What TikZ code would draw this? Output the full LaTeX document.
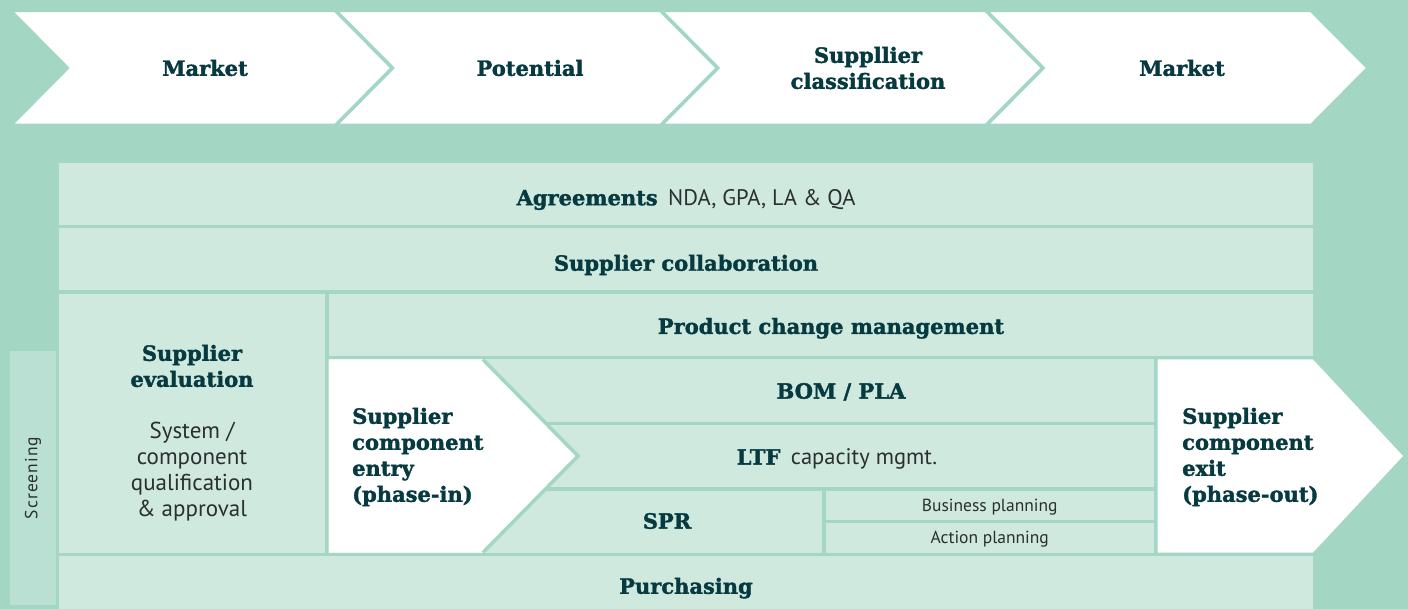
\documentclass[tikz,border=0pt]{standalone}
\usepackage{fontspec}
\setmainfont{PT Sans}
\newfontfamily\slabfont[BoldFeatures={FakeBold=1.6}]{DejaVu Serif}
\usetikzlibrary{positioning,calc}
\usepackage{xcolor}
\definecolor{bggreen}{HTML}{A3D7C4}
\definecolor{cellgreen}{HTML}{CFE9DE}
\definecolor{screengreen}{HTML}{B9E0D2}
\definecolor{inkteal}{HTML}{063A40}
\definecolor{inkgray}{HTML}{2A2F2F}
\newcommand{\reg}[1]{{\normalfont\fontsize{22.5}{26}\selectfont\color{inkgray}#1}}

\begin{document}
\begin{tikzpicture}[
      x=1pt, y=-1pt, % pixel grid, y downwards
      cell/.style={rectangle, fill=cellgreen, inner sep=0pt, outer sep=0pt, anchor=north west, text=inkteal, font=\slabfont\bfseries\fontsize{21}{26}\selectfont, text height=22.5pt, text depth=0pt},
      small/.style={font=\fontsize{17.5}{20}\selectfont, text=inkgray, text height=12.3pt},
      lbl/.style={inner sep=0pt, text=inkteal, font=\slabfont\bfseries\fontsize{21}{26}\selectfont, align=center},
      oneline/.style={text height=15.3pt, text depth=0pt},
      regular/.style={inner sep=0pt, text=inkgray, font=\fontsize{23}{26}\selectfont, align=center},
      chev/.style={fill=white, draw=bggreen, line width=3.5pt, line join=miter},
      gapline/.style={draw=bggreen, line width=3.5pt}
  ]
      \useasboundingbox (0,0) rectangle (1408,609);
      \fill[bggreen] (0,0) rectangle (1408,609);

      % Top row - four chevrons
      \foreach \i/\txt/\tx in {0/Market/205, 1/Potential/530, 2/{Suppllier\\classification}/868, 3/Market/1182} {
          \pgfmathsetmacro{\l}{10.25+325.25*\i}
          \pgfmathsetmacro{\r}{\l+325.25}
          \path[chev] (\l,10.5) -- (\r,10.5) -- (\r+57,68) -- (\r,125.5) -- (\l,125.5) -- (\l+57,68) -- cycle;
          \node[lbl] (stage\i) at (\tx,68) {\txt};
      }

      % Nodes - full width bands
      \node[cell, minimum width=1254pt, minimum height=62pt] (agree) at (59,163) {Agreements\enspace\reg{NDA, GPA, LA \& QA}};
      \node[cell, minimum width=1254pt, minimum height=62pt] (collab) at (59,228.5) {Supplier collaboration};
      \node[cell, minimum width=1254pt, minimum height=53pt] (purch) at (59,556) {Purchasing};

      % Nodes - left column
      \node[cell, fill=screengreen, minimum width=46pt, minimum height=254pt] (screen) at (10,351) {};
      \node[regular, font=\fontsize{17.5}{20}\selectfont\addfontfeature{LetterSpace=6}, rotate=90] (screenlbl) at (screen.center) {Screening};
      \node[cell, minimum width=266pt, minimum height=258.5pt] (eval) at (59,294) {};
      \node[lbl] (evalhead) at (192,366) {Supplier\\evaluation};
      \node[regular] (evalsub) at (192,472) {System /\\component\\qualification\\\& approval};

      % Nodes - middle block
      \node[cell, minimum width=984.5pt, minimum height=62pt] (pcm) at (328.5,294) {};
      \node[cell, minimum width=825.5pt, minimum height=62pt] (bom) at (328.5,359.5) {};
      \node[cell, minimum width=825.5pt, minimum height=62pt] (ltf) at (328.5,425) {};
      \node[cell, minimum width=493.5pt, minimum height=62pt] (spr) at (328.5,490.5) {};
      \node[cell, small, minimum width=328.5pt, minimum height=29.5pt] (bplan) at (825.5,490.5) {Business planning};
      \node[cell, small, minimum width=328.5pt, minimum height=29.5pt] (aplan) at (825.5,523) {Action planning};

      % Entry and exit chevrons
      \fill[white] (bom.north west) -- (483,359.5) -- (578,456) -- (483,552.5) -- (spr.south west) -- cycle;
      \path[gapline] (483,359.5) -- (578,456) -- (483,552.5);
      \fill[white] (1157.5,359.5) -- (1313,359.5) -- (1403,456) -- (1313,552.5) -- (1157.5,552.5) -- cycle;

      % Labels
      \node[lbl, oneline] (pcmlbl) at (831,326.3) {Product change management};
      \node[lbl, oneline] (bomlbl) at (841,391) {BOM / PLA};
      \node[lbl, oneline] (ltflbl) at (837,457) {LTF\enspace\reg{capacity mgmt.}};
      \node[lbl, oneline] (sprlbl) at (667,521) {SPR};
      \node[lbl, align=left, anchor=west] (entry) at (352,457) {Supplier\\component\\entry\\(phase-in)};
      \node[lbl, align=left, anchor=west] (exit) at (1182,457) {Supplier\\component\\exit\\(phase-out)};
  \end{tikzpicture}
\end{document}
